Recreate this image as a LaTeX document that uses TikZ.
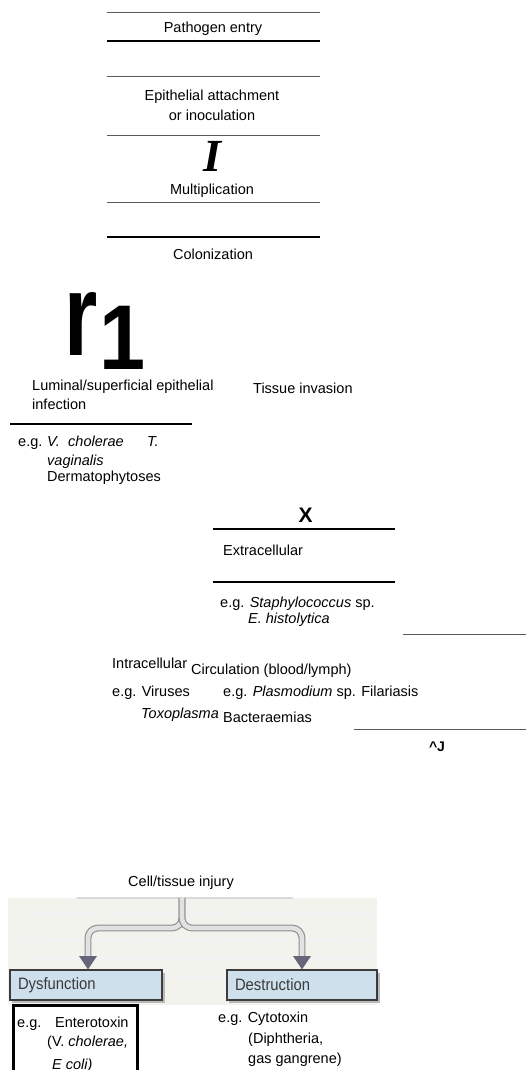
\documentclass[tikz,border=0pt]{standalone}
\usepackage{fontspec}
\setmainfont{Liberation Sans}
\newfontfamily\serifface{Liberation Serif}
\usetikzlibrary{calc}
\definecolor{rule}{HTML}{5A5A5A}
\definecolor{paper}{HTML}{F3F3EE}
\definecolor{boxfill}{HTML}{CEE0EB}
\definecolor{boxline}{HTML}{3C3C3C}
\definecolor{boxtext}{HTML}{3A3A3A}
\definecolor{tipcol}{HTML}{66667A}
\definecolor{tubeline}{HTML}{8E8E8E}
\definecolor{tubefill}{HTML}{E2E2E2}
\tikzset{
  txt/.style={font=\fontsize{14.5}{19}\selectfont, inner sep=0pt, text height=10.5pt, text depth=3pt},
  tl/.style={txt, anchor=west},
  tc/.style={txt, anchor=center},
  thinrule/.style={draw=rule, line width=1pt},
  boldrule/.style={draw=black, line width=1.8pt},
  heavyrule/.style={draw=black, line width=2.6pt},
  tube/.style={draw=tubeline, line width=1.1pt, double=tubefill, double distance=4.6pt, rounded corners=10pt},
  ghost/.style={draw=gray!10, line width=3.5pt, dash pattern=on 24pt off 4pt on 31pt off 3pt on 14pt off 6pt on 40pt off 4pt},
  effbox/.style={draw=boxline, line width=1.2pt, fill=boxfill, minimum height=30pt, inner xsep=8pt, inner ysep=0pt,
    text width=136pt, align=left, text=boxtext, font=\fontsize{16.5}{16.5}\selectfont},
}
\begin{document}
\begin{tikzpicture}[x=1pt,y=-1pt]
\useasboundingbox (0,0) rectangle (526,1070);
\clip (0,0) rectangle (526,1070);

% ---- sequence of early events ----
\draw[thinrule] (107,13) -- (320,13);
\node[tc] (entry) at (213,29) {Pathogen entry};
\draw[boldrule] (107,41) -- (320,41);
\draw[thinrule] (107,77) -- (320,77);
\node[tc] (attach) at (212,97) {Epithelial attachment};
\node[tc] (inoc) at (212,117) {or inoculation};
\draw[thinrule] (107,135.5) -- (320,135.5);
\node[anchor=base, inner sep=0pt, font=\serifface\bfseries\itshape\fontsize{46}{46}\selectfont] (bigI) at (212,171) {I};
\node[tc] (mult) at (212,191) {Multiplication};
\draw[thinrule] (107,202) -- (320,202);
\draw[boldrule] (107,237) -- (320,237);
\node[tc] (colon) at (213,256) {Colonization};

% ---- large glyphs ----
\node[anchor=base, inner sep=0pt, font=\bfseries\fontsize{117}{117}\selectfont] (bigr) at (81,355) {\scalebox{0.73}[1]{r}};
\node[anchor=base, inner sep=0pt, text depth=0pt, font=\bfseries\fontsize{92}{92}\selectfont] (bigone) at (123,369) {\scalebox{0.9}[1]{1}};

% ---- luminal branch ----
\node[tl] (lum) at (32,387) {Luminal/superficial epithelial};
\node[tl] (lum2) at (32,406) {infection};
\node[tl] (tissue) at (253,390) {Tissue invasion};
\draw[boldrule] (10,424) -- (192,424);
\node[tl] (eg1) at (18,443) {e.g.};
\node[tl] (vc1) at (47,443) {\itshape V.};
\node[tl] (vc2) at (68,443) {\itshape cholerae};
\node[tl] (tv1) at (147,443) {\itshape T.};
\node[tl] (tv2) at (47,462) {\itshape vaginalis};
\node[tl] (derm) at (47,478) {Dermatophytoses};

% ---- invasion branch ----
\node[anchor=base, inner sep=0pt, font=\bfseries\fontsize{21}{21}\selectfont] (bigX) at (305.5,522) {X};
\draw[heavyrule] (213,529) -- (395,529);
\node[tl] (extra) at (223,552) {Extracellular};
\draw[heavyrule] (213,582) -- (395,582);
\node[tl] (eg2) at (220,604) {e.g. \textit{Staphylococcus} sp.};
\node[tl] (ehist) at (248,620) {\itshape E. histolytica};
\draw[thinrule] (403,634) -- (526,634);

\node[tl] (intra) at (112,665) {Intracellular};
\node[tl] (circ) at (191,671) {Circulation (blood/lymph)};
\node[tl] (eg3) at (112,693) {e.g. Viruses};
\node[tl] (eg4) at (223,693) {e.g. \textit{Plasmodium} sp. Filariasis};
\node[tl] (toxo) at (141,715) {\itshape Toxoplasma};
\node[tl] (bact) at (223,719) {Bacteraemias};
\draw[thinrule] (354,729) -- (526,729);
\node[anchor=center, inner sep=0pt, font=\bfseries\fontsize{14}{14}\selectfont] (hook) at (437,747) {\textasciicircum J};

% ---- injury panel ----
\node[tc] (injury) at (181,883) {Cell/tissue injury};
\fill[paper] (8,898) rectangle (377,1005);
\fill[gray!30] (77,896.5) rectangle (293,898.5);
\draw[ghost] (22,913) -- (376,913);
\draw[ghost, dash phase=10pt] (22,940) -- (376,940);
\draw[ghost, dash phase=20pt] (22,958) -- (376,958);
\draw[ghost, dash phase=5pt] (165,977) -- (225,977);

\fill[gray!55] (12,972.5) rectangle (164.5,1002.5);
\fill[gray!55] (229,972.5) rectangle (379.5,1002.5);
\node[effbox] (dys) at (86,985) {\scalebox{0.9}[1]{Dysfunction}};
\node[effbox, text width=134pt] (des) at (302,985) {\scalebox{0.9}[1]{Destruction}};

\coordinate (stem) at (182,898);
\coordinate (lfoot) at (88,956);
\coordinate (rfoot) at (302,956);
\draw[tube] (stem) -- (182,928) -| (lfoot);
\draw[tube] (stem) -- (182,928) -| (rfoot);
\fill[tipcol] (lfoot) ++(-9,0) -- ++(18,0) -- (dys.north -| lfoot) -- cycle;
\fill[tipcol] (rfoot) ++(-9,0) -- ++(18,0) -- (des.north -| rfoot) -- cycle;

% ---- examples under the two outcomes ----
\draw[black, line width=3pt] (13,1075) -- (13,1005) -- (137,1005) -- (137,1075);
\node[tl] (eg5) at (17,1024) {e.g.};
\node[tl] (entero) at (55,1024) {Enterotoxin};
\node[tl] (vch) at (47,1043) {(V. \textit{cholerae,}};
\node[tl] (ecoli) at (52,1066) {\itshape E coli)};
\node[tl] (eg6) at (218,1019) {e.g. Cytotoxin};
\node[tl] (diph) at (248,1040) {(Diphtheria,};
\node[tl] (gas) at (248,1060) {gas gangrene)};
\end{tikzpicture}
\end{document}
